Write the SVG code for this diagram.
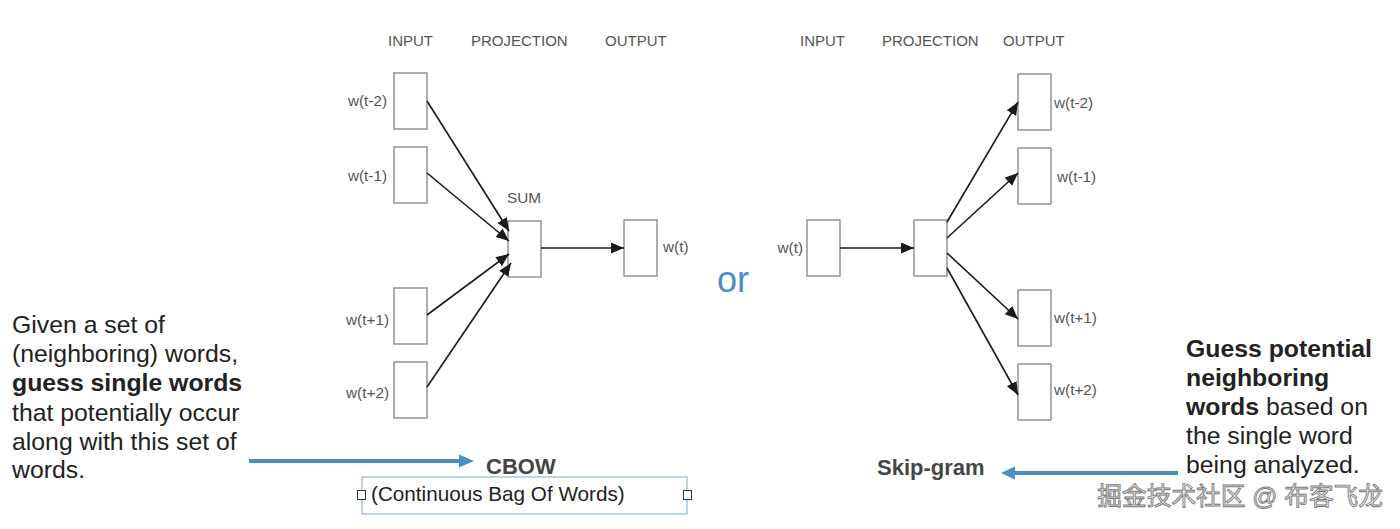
<svg xmlns="http://www.w3.org/2000/svg" width="1400" height="529" viewBox="0 0 1400 529">
<defs>
<marker id="ah" markerUnits="userSpaceOnUse" markerWidth="14" markerHeight="12" refX="13" refY="5.5" orient="auto">
<path d="M0,0 L13,5.5 L0,11 z" fill="#1a1a1a"/>
</marker>
</defs>
<style>
text{font-family:"Liberation Sans",Arial,sans-serif}
.hdr{font-size:15px;fill:#555}
.lbl{font-size:15.3px;fill:#555}
.box{fill:#fff;stroke:#9a9a9a;stroke-width:1.6}
.edge{stroke:#1a1a1a;stroke-width:1.6;fill:none;marker-end:url(#ah)}
.title{font-size:22px;font-weight:bold;fill:#454545}
.para{font-size:24.8px;fill:#222}
.blue{stroke:#4a8ec6;stroke-width:4;fill:none}
.bhead{fill:#4a8ec6}
</style>
<rect width="1400" height="529" fill="#fff"/>

<g id="cbow-headers">
<text class="hdr" x="388" y="46">INPUT</text>
<text class="hdr" x="471" y="46">PROJECTION</text>
<text class="hdr" x="605" y="46">OUTPUT</text>
</g>
<g id="cbow-in-tm2"><rect class="box" x="394" y="73" width="33" height="56"/><text class="lbl" x="387" y="106" text-anchor="end">w(t-2)</text></g>
<g id="cbow-in-tm1"><rect class="box" x="394" y="147" width="33" height="56"/><text class="lbl" x="387" y="181" text-anchor="end">w(t-1)</text></g>
<g id="cbow-in-tp1"><rect class="box" x="394" y="288" width="33" height="56"/><text class="lbl" x="389" y="325" text-anchor="end">w(t+1)</text></g>
<g id="cbow-in-tp2"><rect class="box" x="394" y="362" width="33" height="56"/><text class="lbl" x="389" y="398" text-anchor="end">w(t+2)</text></g>
<g id="cbow-sum"><rect class="box" x="508" y="221" width="33" height="56"/><text class="lbl" x="507" y="203">SUM</text></g>
<g id="cbow-out"><rect class="box" x="624" y="220" width="33" height="56"/><text class="lbl" x="663" y="252">w(t)</text></g>

<g id="sg-headers">
<text class="hdr" x="800" y="46">INPUT</text>
<text class="hdr" x="882" y="46">PROJECTION</text>
<text class="hdr" x="1003" y="46">OUTPUT</text>
</g>
<g id="sg-in"><rect class="box" x="807" y="220" width="33" height="56"/><text class="lbl" x="803" y="253" text-anchor="end">w(t)</text></g>
<g id="sg-proj"><rect class="box" x="914" y="220" width="33" height="56"/></g>
<g id="sg-out-tm2"><rect class="box" x="1018" y="74" width="33" height="56"/><text class="lbl" x="1054" y="108">w(t-2)</text></g>
<g id="sg-out-tm1"><rect class="box" x="1018" y="148" width="33" height="56"/><text class="lbl" x="1057" y="182">w(t-1)</text></g>
<g id="sg-out-tp1"><rect class="box" x="1018" y="290" width="33" height="56"/><text class="lbl" x="1054" y="323">w(t+1)</text></g>
<g id="sg-out-tp2"><rect class="box" x="1018" y="364" width="33" height="56"/><text class="lbl" x="1054" y="395">w(t+2)</text></g>

<g id="connectors">
<line class="edge" x1="427" y1="101" x2="509" y2="231"/>
<line class="edge" x1="427" y1="173" x2="509" y2="241"/>
<line class="edge" x1="427" y1="315" x2="509" y2="254"/>
<line class="edge" x1="427" y1="387" x2="511" y2="263"/>
<line class="edge" x1="541" y1="248" x2="624" y2="248"/>
<line class="edge" x1="840" y1="248" x2="914" y2="248"/>
<line class="edge" x1="947" y1="222" x2="1018" y2="102"/>
<line class="edge" x1="947" y1="238" x2="1018" y2="173"/>
<line class="edge" x1="947" y1="253" x2="1018" y2="319"/>
<line class="edge" x1="947" y1="268" x2="1018" y2="395"/>
<line class="blue" x1="249" y1="461" x2="460" y2="461"/>
<polygon class="bhead" points="459,454.5 474,461 459,467.5"/>
<line class="blue" x1="1178" y1="473" x2="1014" y2="473"/>
<polygon class="bhead" points="1015,466.5 1001,473 1015,479.5"/>
</g>

<g id="or"><text x="717" y="292" font-size="36" fill="#4a8ec6">or</text></g>

<g id="cbow-title"><text class="title" x="486" y="474">CBOW</text></g>
<g id="cbow-sub">
<rect x="362" y="477" width="325" height="37" fill="none" stroke="#79a6d2" stroke-width="1"/>
<rect x="357.5" y="490.5" width="8" height="9" fill="#fff" stroke="#333" stroke-width="1"/>
<rect x="683.5" y="490.5" width="8" height="9" fill="#fff" stroke="#333" stroke-width="1"/>
<text x="371" y="501" font-size="20.7" fill="#222">(Continuous Bag Of Words)</text>
</g>
<g id="sg-title"><text class="title" x="877" y="475">Skip-gram</text></g>

<g id="left-text">
<text class="para" x="12" y="333">Given a set of</text>
<text class="para" x="12" y="362">(neighboring) words,</text>
<text class="para" x="12" y="391" font-weight="bold">guess single words</text>
<text class="para" x="12" y="421">that potentially occur</text>
<text class="para" x="12" y="450">along with this set of</text>
<text class="para" x="12" y="478">words.</text>
</g>
<g id="right-text">
<text class="para" x="1186" y="357" font-weight="bold">Guess potential</text>
<text class="para" x="1186" y="386" font-weight="bold">neighboring</text>
<text class="para" x="1186" y="415"><tspan font-weight="bold">words</tspan> based on</text>
<text class="para" x="1186" y="444">the single word</text>
<text class="para" x="1186" y="473">being analyzed.</text>
</g>
<g id="watermark"><text x="1383" y="505" text-anchor="end" font-size="24.7" fill="#f2f2f2" stroke="#7a7a7a" stroke-width="0.9" style="font-family:'Liberation Sans','Noto Sans CJK SC',sans-serif">掘金技术社区 @ 布客飞龙</text></g>
</svg>
